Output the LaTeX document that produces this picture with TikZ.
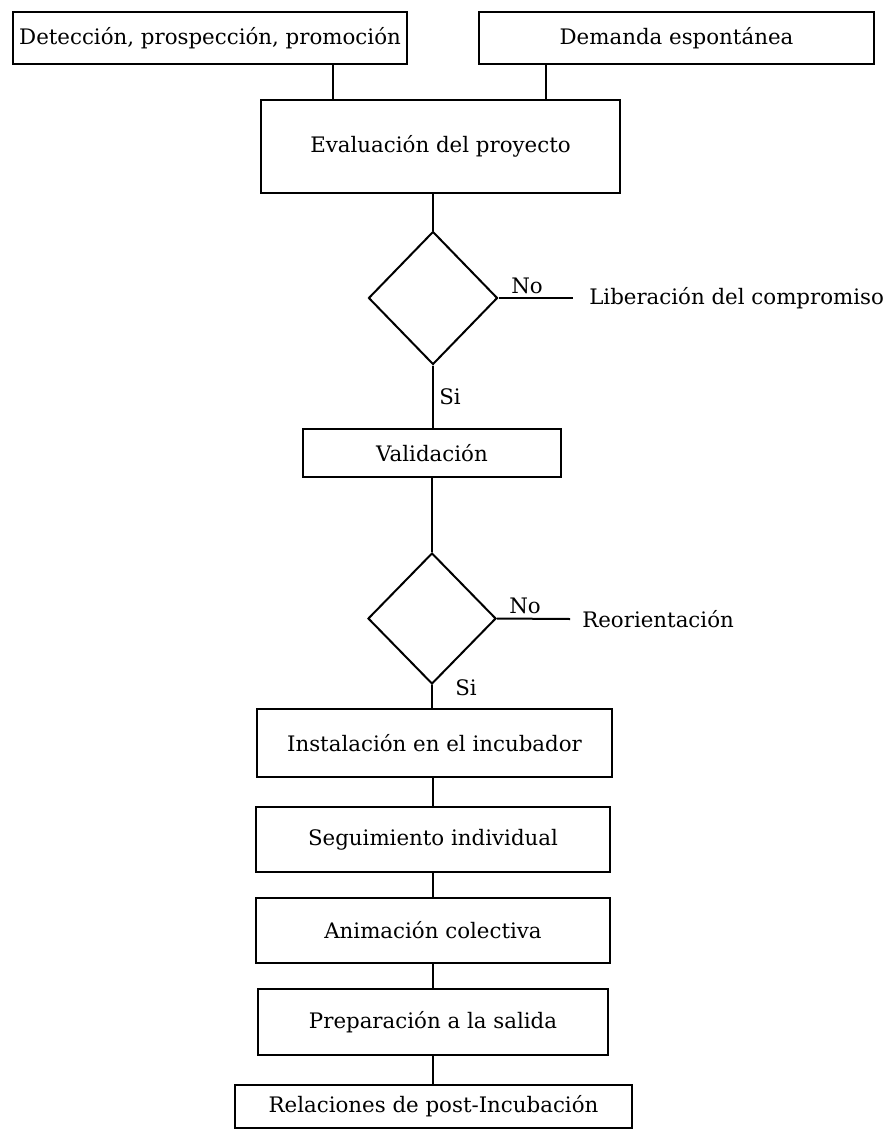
\documentclass[tikz,border=0pt]{standalone}
\usepackage{fontspec}
\setmainfont{DejaVu Serif}
\usetikzlibrary{shapes.geometric}

\tikzset{
	caja/.style={draw, line width=1.5pt, inner sep=0pt, font=\fontsize{16}{18}\selectfont},
	rombo/.style={draw, diamond, line width=1.5pt, inner sep=0pt, minimum width=96.75pt, minimum height=99.75pt},
	etiqueta/.style={font=\fontsize{16}{18}\selectfont},
	linea/.style={line width=1.5pt}
}

\begin{document}
\begin{tikzpicture}[x=0.75pt, y=-0.75pt]
		\useasboundingbox (0,0) rectangle (890,1131);
		
		\coordinate (x_1) at (333, 0);
		\coordinate (x_2) at (546, 0);
		
		\node[caja, minimum width=295.5pt, minimum height=39pt] (deteccion) at (210, 38) {Detección, prospección, promoción};
		\node[caja, minimum width=296.25pt, minimum height=39pt] (demanda) at (676.5, 38) {Demanda espontánea};
		\node[caja, minimum width=269.25pt, minimum height=69.75pt] (evaluacion) at (440.5, 146.5) {Evaluación del proyecto};
		\node[rombo] (rombo_1) at (433, 298) {};
		\node[caja, minimum width=193.5pt, minimum height=36pt] (validacion) at (432, 453) {Validación};
		\node[rombo, minimum width=96pt, minimum height=98.25pt] (rombo_2) at (432, 618.5) {};
		\node[caja, minimum width=266.25pt, minimum height=51pt] (instalacion) at (434.5, 743) {Instalación en el incubador};
		\node[caja, minimum width=265.5pt, minimum height=48.75pt] (seguimiento) at (433, 839.5) {Seguimiento individual};
		\node[caja, minimum width=265.5pt, minimum height=48.75pt] (animacion) at (433, 930.5) {Animación colectiva};
		\node[caja, minimum width=262.5pt, minimum height=49.5pt] (preparacion) at (433, 1022) {Preparación a la salida};
		\node[caja, minimum width=297.75pt, minimum height=32.25pt] (relaciones) at (433.5, 1106.5) {Relaciones de post-Incubación};
		
		\node[etiqueta, anchor=west, inner xsep=12pt] (liberacion) at (573, 298) {Liberación del compromiso};
		\node[etiqueta, anchor=west, inner xsep=9pt] (reorientacion) at (570, 619) {Reorientación};
		
		\node[etiqueta] (no_1) at (527, 286) {No};
		\node[etiqueta] (si_1) at (450, 397) {Si};
		\node[etiqueta] (no_2) at (525, 606) {No};
		\node[etiqueta] (si_2) at (466, 688) {Si};
		
		\draw[linea] (deteccion.south -| x_1) -- (evaluacion.north -| x_1);
		\draw[linea] (demanda.south -| x_2) -- (evaluacion.north -| x_2);
		\draw[linea] (evaluacion.south -| rombo_1.north) -- (rombo_1.north);
		\draw[linea] (rombo_1.south) -- (validacion.north -| rombo_1.south);
		\draw[linea] (validacion.south -| rombo_2.north) -- (rombo_2.north);
		\draw[linea] (rombo_2.south) -- (instalacion.north -| rombo_2.south);
		\draw[linea] (instalacion.south -| seguimiento.north) -- (seguimiento.north);
		\draw[linea] (seguimiento.south) -- (animacion.north);
		\draw[linea] (animacion.south) -- (preparacion.north);
		\draw[linea] (preparacion.south) -- (relaciones.north -| preparacion.south);
		
		\draw[linea] (rombo_1.east) -- (liberacion.west);
		\draw[linea] (rombo_2.east) -- (reorientacion.west);
	\end{tikzpicture}
\end{document}
